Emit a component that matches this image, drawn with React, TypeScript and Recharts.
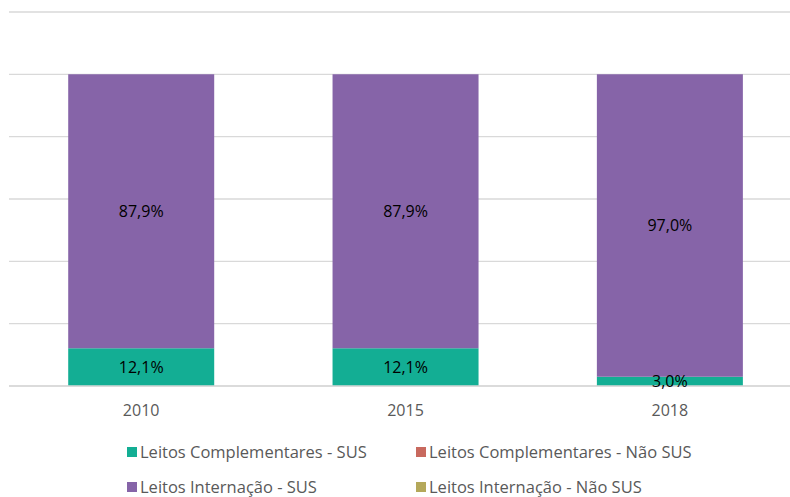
import { BarChart, Bar, XAxis, YAxis, CartesianGrid, LabelList } from "recharts"

const years = ["2010", "2015", "2018"]
const complementaresSus = [12.1, 12.1, 3.0]
const complementaresNaoSus = [0, 0, 0]
const internacaoSus = [87.9, 87.9, 97.0]
const internacaoNaoSus = [0, 0, 0]
const yTicks = [0, 20, 40, 60, 80, 100, 120]

const series = [
  { key: "compSus", name: "Leitos Complementares - SUS", color: "#13AE94", values: complementaresSus },
  { key: "compNaoSus", name: "Leitos Complementares - Não SUS", color: "#C8695E", values: complementaresNaoSus },
  { key: "intSus", name: "Leitos Internação - SUS", color: "#8664A8", values: internacaoSus },
  { key: "intNaoSus", name: "Leitos Internação - Não SUS", color: "#B4A85A", values: internacaoNaoSus },
]

const data = years.map((year, i) => {
  const row: any = { year }
  series.forEach((s) => {
    row[s.key] = s.values[i]
  })
  return row
})

const font = "'Open Sans', 'Noto Sans', sans-serif"

const fmt = (v: any) => (v ? `${Number(v).toFixed(1).replace(".", ",")}%` : "")

export default function App() {
  return (
    <div style={{ position: "absolute", left: 0, top: 0, width: 790, height: 497, overflow: "hidden", background: "#fff", fontFamily: font }}>
      <BarChart
        width={802}
        height={420}
        data={data}
        margin={{ top: 12, right: 0, left: 9, bottom: 0 }}
        barCategoryGap="22.4%"
      >
        <CartesianGrid horizontal vertical={false} stroke="#D9D9D9" strokeWidth={1.3} />
        <XAxis
          dataKey="year"
          height={34}
          tickLine={false}
          tickSize={0}
          tickMargin={19}
          axisLine={{ stroke: "#D9D9D9", strokeWidth: 1.3 }}
          tick={{ fill: "#595959", fontSize: 16, fontFamily: font }}
        />
        <YAxis hide domain={[0, 120]} ticks={yTicks} />
        {series.map((s) => (
          <Bar key={s.key} dataKey={s.key} name={s.name} stackId="a" fill={s.color} isAnimationActive={false}>
            <LabelList dataKey={s.key} position="center" formatter={fmt} fill="#000" fontSize={16} fontFamily={font} />
          </Bar>
        ))}
      </BarChart>
      <div
        style={{
          position: "absolute",
          top: 443,
          left: 127,
          display: "grid",
          gridTemplateColumns: "289px 300px",
          rowGap: 17,
          fontSize: 16.5,
          lineHeight: "18px",
          color: "#595959",
        }}
      >
        {series.map((s) => (
          <div key={s.key} style={{ display: "flex", alignItems: "center", height: 18 }}>
            <span style={{ width: 10, height: 10, background: s.color, marginRight: 3, display: "inline-block" }} />
            <span>{s.name}</span>
          </div>
        ))}
      </div>
    </div>
  )
}
